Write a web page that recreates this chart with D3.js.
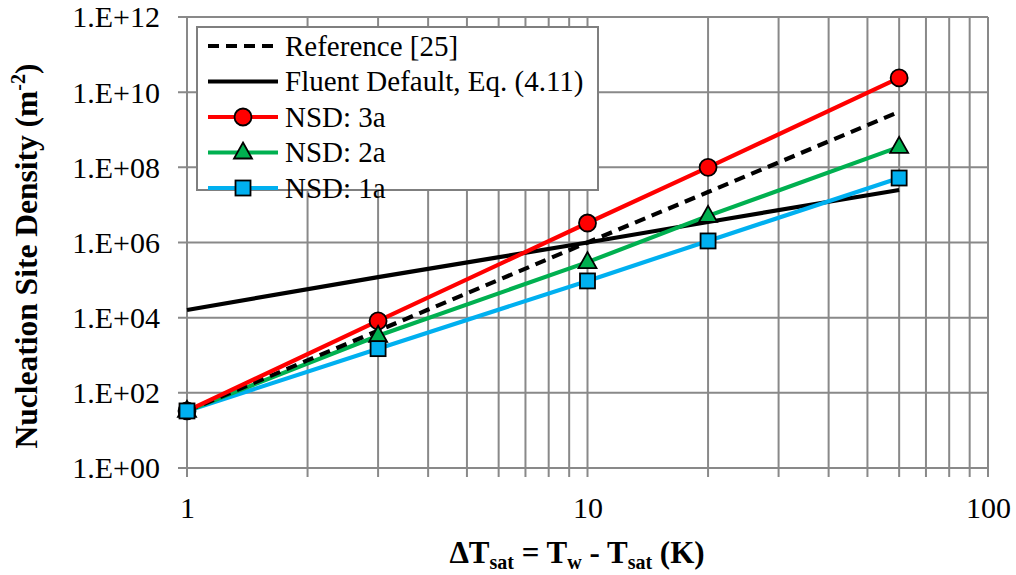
<!DOCTYPE html>
<html><head><meta charset="utf-8">
<script src="https://cdn.jsdelivr.net/npm/d3@7"></script>
<style>body{margin:0;background:#fff}svg{display:block}svg text{font-family:'Liberation Serif','Times New Roman',Tinos,'DejaVu Serif',serif !important}</style>
</head><body><svg id="c" width="1016" height="575"></svg>
<script>
const dT = [1, 3, 10, 20, 60];
const reference = [33, 4.5e3, 1.0e6, 2.2e7, 3.0e9];
const fluent = [1.6e4, 1.2e5, 1.0e6, 3.5e6, 2.5e7];
const nsd3a = [33, 8.2e3, 3.3e6, 1.0e8, 2.4e10];
const nsd2a = [33, 3.3e3, 3.0e5, 5.1e6, 3.5e8];
const nsd1a = [33, 1.5e3, 9.5e4, 1.1e6, 5.2e7];
const yTicks = [1, 1e2, 1e4, 1e6, 1e8, 1e10, 1e12];
const yTickLabels = ["1.E+00","1.E+02","1.E+04","1.E+06","1.E+08","1.E+10","1.E+12"];
const xTicks = [1, 10, 100];
const xMinor = [2,3,4,5,6,7,8,9,20,30,40,50,60,70,80,90];

const series = [
  {name:"Reference [25]", values:reference, color:"#000", dash:"11,7", marker:null},
  {name:"Fluent Default, Eq. (4.11)", values:fluent, color:"#000", dash:null, marker:null},
  {name:"NSD: 3a", values:nsd3a, color:"#ff0000", dash:null, marker:"circle"},
  {name:"NSD: 2a", values:nsd2a, color:"#00b050", dash:null, marker:"triangle"},
  {name:"NSD: 1a", values:nsd1a, color:"#00b0f0", dash:null, marker:"square"}
];
const lineOrder = [1, 4, 3, 0, 2];
const markerOrder = [2, 3, 4];

const svg = d3.select("#c");
const L=187, R=988, T=17, B=468;
const x = d3.scaleLog().domain([1,100]).range([L,R]);
const y = d3.scaleLog().domain([1,1e12]).range([B,T]);
const grid = "#898989";
const FONT = "'Liberation Serif','Times New Roman',Tinos,'DejaVu Serif',serif";

const g = svg.append("g");
g.selectAll("line.vx").data(xMinor.concat(xTicks)).join("line")
  .attr("x1",d=>x(d)).attr("x2",d=>x(d)).attr("y1",T).attr("y2",B+9)
  .attr("stroke",grid).attr("stroke-width",2);
g.selectAll("line.hy").data(yTicks).join("line")
  .attr("x1",L-9).attr("x2",R).attr("y1",d=>y(d)).attr("y2",d=>y(d))
  .attr("stroke",grid).attr("stroke-width",2);

const yAxis = d3.axisLeft(y).tickValues(yTicks).tickFormat((d,i)=>yTickLabels[i]).tickSize(0).tickPadding(27);
const ya = svg.append("g").attr("transform",`translate(${L},0)`).call(yAxis);
ya.select(".domain").remove();
ya.selectAll("text").style("font-family",FONT).style("font-size","30px").attr("fill","#000").attr("dy","0.33em");
const xAxis = d3.axisBottom(x).tickValues(xTicks).tickFormat(d3.format("d")).tickSize(0).tickPadding(29);
const xa = svg.append("g").attr("transform",`translate(0,${B})`).call(xAxis);
xa.select(".domain").remove();
xa.selectAll("text").style("font-family",FONT).style("font-size","30px").attr("fill","#000").attr("dy","0.71em");

const line = d3.line().x((d,i)=>x(dT[i])).y(d=>y(d));
lineOrder.forEach(k=>{
  const s = series[k];
  svg.append("path").attr("d",line(s.values)).attr("fill","none")
    .attr("stroke",s.color).attr("stroke-width",4.2).attr("stroke-dasharray",s.dash);
});
function marker(sel, type, color, cx, cy){
  let m;
  if(type==="circle") m=sel.append("circle").attr("cx",cx).attr("cy",cy).attr("r",8.5);
  else if(type==="square") m=sel.append("rect").attr("x",cx-7.5).attr("y",cy-7.5).attr("width",15).attr("height",15);
  else m=sel.append("path").attr("d",`M${cx},${cy-10}L${cx+9},${cy+6}L${cx-9},${cy+6}Z`);
  m.attr("fill",color).attr("stroke","#000").attr("stroke-width",1.8);
}
markerOrder.forEach(k=>{
  const s = series[k];
  const mg = svg.append("g");
  s.values.forEach((v,i)=>marker(mg, s.marker, s.color, x(dT[i]), y(v)));
});

const lg = svg.append("g");
lg.append("rect").attr("x",197).attr("y",27).attr("width",401).attr("height",163)
  .attr("fill","#fff").attr("stroke","#7f7f7f").attr("stroke-width",2);
series.forEach((s,i)=>{
  const cy = 46 + i*35.5;
  lg.append("line").attr("x1",208).attr("x2",278).attr("y1",cy).attr("y2",cy)
    .attr("stroke",s.color).attr("stroke-width",4.2).attr("stroke-dasharray",s.dash);
  if(s.marker){ marker(lg,s.marker,s.color,243,cy); }
  lg.append("text").attr("x",285).attr("y",cy).attr("dy","0.33em").style("font-family",FONT).style("font-size","29px").text(s.name);
});

const xt = svg.append("text").attr("x",577).attr("y",563).attr("text-anchor","middle")
  .style("font-family",FONT).style("font-size","31px").attr("font-weight","bold");
xt.append("tspan").text("ΔT");
xt.append("tspan").style("font-size","20px").attr("dy",6).text("sat");
xt.append("tspan").attr("dy",-6).text(" = T");
xt.append("tspan").style("font-size","20px").attr("dy",6).text("w");
xt.append("tspan").attr("dy",-6).text(" - T");
xt.append("tspan").style("font-size","20px").attr("dy",6).text("sat");
xt.append("tspan").attr("dy",-6).text(" (K)");

const yt = svg.append("text").attr("transform","translate(37,256) rotate(-90)").attr("text-anchor","middle")
  .style("font-family",FONT).style("font-size","31.5px").attr("font-weight","bold");
yt.append("tspan").text("Nucleation Site Density (m");
yt.append("tspan").style("font-size","20px").attr("dy",-12).text("-2");
yt.append("tspan").attr("dy",12).text(")");
</script></body></html>
